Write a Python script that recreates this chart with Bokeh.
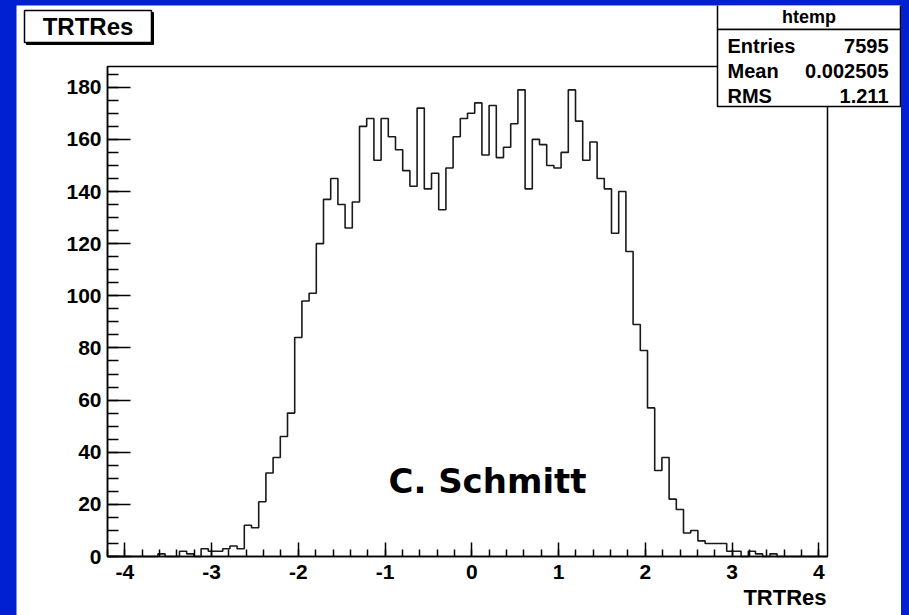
import numpy as np
from bokeh.plotting import figure
from bokeh.models import (FixedTicker, LinearAxis, Label, Range1d, GlobalInlineStyleSheet)
from bokeh.embed import file_html
from bokeh.resources import INLINE

# ---------------- data ----------------
hist_name = "htemp"
var_name = "TRTRes"
x_min = -4.2
x_max = 4.1
counts = [0, 0, 0, 0, 0, 0, 0, 1, 0, 0,
          2, 1, 0, 3, 2, 2, 3, 4, 3, 12,
          11, 21, 32, 38, 46, 55, 84, 98, 101, 120,
          137, 145, 135, 126, 136, 165, 168, 152, 168, 161,
          156, 148, 142, 172, 141, 147, 133, 149, 161, 168,
          170, 174, 154, 173, 153, 157, 166, 179, 141, 160,
          158, 150, 149, 155, 179, 167, 152, 159, 145, 141,
          124, 140, 117, 89, 79, 57, 33, 38, 22, 18,
          9, 10, 6, 5, 5, 5, 2, 2, 0, 2,
          1, 0, 1, 0, 0, 0, 0, 0, 0, 0]
stat_labels = ["Entries", "Mean", "RMS"]
stat_values = ["7595", "0.002505", "1.211"]
x_major = [-4, -3, -2, -1, 0, 1, 2, 3, 4]
x_tick_labels = ["-4", "-3", "-2", "-1", "0", "1", "2", "3", "4"]
x_minor = [round(-4.2 + 0.2 * i, 1) for i in range(42)]
y_major = [0, 20, 40, 60, 80, 100, 120, 140, 160, 180]
y_tick_labels = ["0", "20", "40", "60", "80", "100", "120", "140", "160", "180"]
y_minor = list(range(0, 190, 5))
author = "C. Schmitt"

n_bins = len(counts)
bw = (x_max - x_min) / n_bins
edges = x_min + bw * np.arange(n_bins + 1)
step_y = counts + [counts[-1]]
y_max = max(counts) * 1.05

BLUE = "#0020D2"
FONT = "Liberation Sans"

# canvas geometry: histogram frame is 720 x 490 px, 91 px from the left, 59 px from the bottom
W, H = 885, 610
FL, FB, FW, FH = 91, 59, 720, 490
px_x = (x_max - x_min) / FW
px_y = y_max / FH

def dx(px):  # pixel offset from histogram-frame left -> data x
    return x_min + px * px_x

def dy(px):  # pixel offset above histogram-frame bottom -> data y
    return px * px_y

p = figure(width=W, height=H, output_backend="svg", toolbar_location=None, title=None,
           x_range=Range1d(dx(-FL), dx(W - FL)), y_range=Range1d(dy(-FB), dy(H - FB)),
           min_border_left=0, min_border_right=0, min_border_top=0, min_border_bottom=0,
           x_axis_type=None, y_axis_type=None)
p.stylesheets = [GlobalInlineStyleSheet(css=(
    "html, body { background-color: %s !important; }"
    "body { margin: 5px 0 0 16px !important; overflow: hidden; }" % BLUE))]
p.background_fill_color = "white"
p.border_fill_color = "white"
p.outline_line_color = None
p.grid.visible = False

def style_axis(ax, major_in, minor_in):
    ax.axis_line_color = "black"
    ax.axis_line_width = 1.5
    ax.major_tick_in = major_in
    ax.major_tick_out = 0
    ax.minor_tick_in = minor_in
    ax.minor_tick_out = 0
    ax.major_tick_line_color = "black"
    ax.major_tick_line_width = 1.5
    ax.minor_tick_line_color = "black"
    ax.minor_tick_line_width = 1.5
    ax.major_label_text_font = FONT
    ax.major_label_text_font_style = "bold"
    ax.major_label_text_font_size = "21px"
    ax.major_label_text_color = "black"

# histogram frame
p.quad(left=[x_min], right=[x_max], bottom=[0], top=[y_max],
       fill_color=None, line_color="black", line_width=1.5)

# histogram outline
p.step(x=edges, y=step_y, mode="after", line_color="#1a1a1a", line_width=1.6)

xaxis = LinearAxis(ticker=FixedTicker(ticks=x_major, minor_ticks=x_minor),
                   fixed_location=0, bounds=(x_min, x_max))
style_axis(xaxis, 14, 7)
xaxis.major_label_standoff = 8
xaxis.major_label_overrides = dict(zip(x_major, x_tick_labels))
p.add_layout(xaxis, "below")

yaxis = LinearAxis(ticker=FixedTicker(ticks=y_major, minor_ticks=y_minor),
                   fixed_location=x_min, bounds=(0, y_max))
style_axis(yaxis, 23, 11)
yaxis.major_label_standoff = 6
yaxis.major_label_overrides = dict(zip(y_major, y_tick_labels))
p.add_layout(yaxis, "left")

# title pave "TRTRes" (with shadow)
p.quad(left=[dx(-81)], right=[dx(46)], top=[dy(544)], bottom=[dy(512)],
       fill_color="black", line_color="black", line_width=1)
p.quad(left=[dx(-83)], right=[dx(44)], top=[dy(546)], bottom=[dy(514)],
       fill_color="white", line_color="black", line_width=1.5)
p.add_layout(Label(x=dx(-19.5), y=dy(530), text=var_name, text_align="center",
                   text_baseline="middle", text_font=FONT, text_font_style="bold",
                   text_font_size="24px", text_color="black"))

# stats box
p.quad(left=[dx(610)], right=[dx(793)], top=[dy(552)], bottom=[dy(527)],
       fill_color="white", line_color="black", line_width=1.5)
p.quad(left=[dx(610)], right=[dx(793)], top=[dy(527)], bottom=[dy(450)],
       fill_color="white", line_color="black", line_width=1.5)
p.add_layout(Label(x=dx(701.5), y=dy(540), text=hist_name, text_align="center",
                   text_baseline="middle", text_font=FONT, text_font_style="bold",
                   text_font_size="18px", text_color="black"))
for i, (lab, val) in enumerate(zip(stat_labels, stat_values)):
    yy = dy(511 - 25 * i)
    p.add_layout(Label(x=dx(620), y=yy, text=lab, text_align="left", text_baseline="middle",
                       text_font=FONT, text_font_style="bold", text_font_size="20px",
                       text_color="black"))
    p.add_layout(Label(x=dx(781), y=yy, text=val, text_align="right", text_baseline="middle",
                       text_font=FONT, text_font_style="bold", text_font_size="20px",
                       text_color="black"))

# x axis title
p.add_layout(Label(x=dx(719), y=dy(-41), text=var_name, text_align="right",
                   text_baseline="middle", text_font=FONT, text_font_style="bold",
                   text_font_size="22px", text_color="black"))

# author text
p.add_layout(Label(x=dx(380), y=dy(76), text=author, text_align="center",
                   text_baseline="middle", text_font="DejaVu Sans", text_font_style="bold",
                   text_font_size="34px", text_color="black"))

open("out.html", "w").write(file_html(p, INLINE))
